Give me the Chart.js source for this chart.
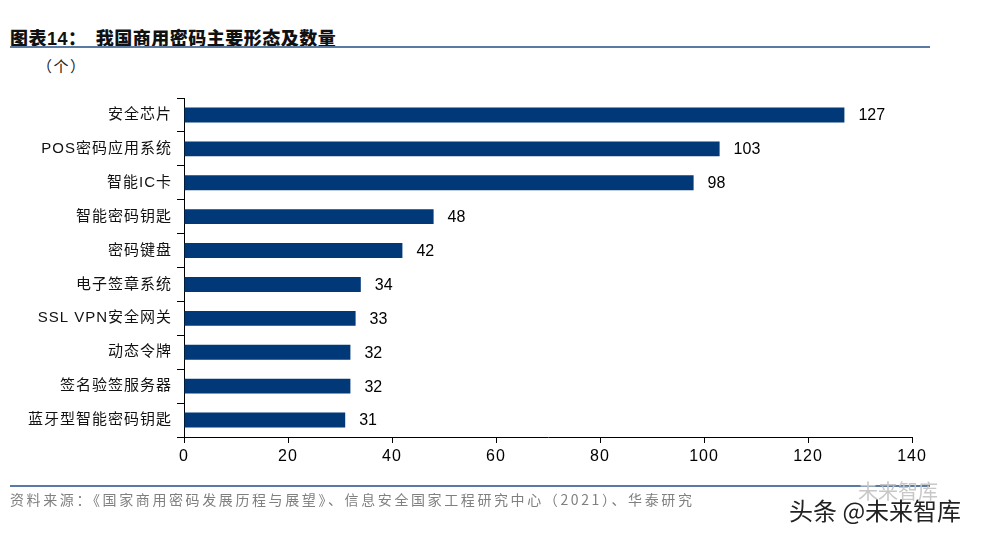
<!DOCTYPE html>
<html>
<head>
<meta charset="utf-8">
<script src="https://cdn.jsdelivr.net/npm/chart.js@4/dist/chart.umd.min.js"></script>
<style>
  body { margin: 0; background: #fff; width: 982px; height: 536px; overflow: hidden; position: relative; }
  #myChart { position: absolute; left: 0; top: 0; }
  .title { position: absolute; left: 10px; top: 25px; font: 900 18px "Noto Sans CJK SC", sans-serif; color: #111; white-space: nowrap; line-height: 24px; letter-spacing: 0.5px; }
  .title .num { font-family: "Liberation Sans", Arial, sans-serif; font-weight: bold; }
  .line { position: absolute; left: 10px; width: 920px; height: 2px; background: #5a7aa3; }
  .unit { position: absolute; left: 37px; top: 55px; font: 15px "Noto Sans CJK SC", sans-serif; color: #222; letter-spacing: 1.5px; }
  .source { position: absolute; left: 10px; top: 489px; font: 14px "Noto Sans CJK SC", sans-serif; color: #808080; letter-spacing: 2.6px; white-space: nowrap; }
  .mark { position: absolute; left: 789px; top: 492px; font: 24px "Noto Sans CJK SC", sans-serif; color: #222; white-space: nowrap; }
  .ghost { position: absolute; left: 858px; top: 476px; font: 20px "Noto Sans CJK SC", sans-serif; color: #c8c8c8; white-space: nowrap; }
</style>
</head>
<body>
<div class="title">图表<span class="num">14</span>：&nbsp;&nbsp;我国商用密码主要形态及数量</div>
<div class="line" style="top:46px"></div>
<div class="unit">（个）</div>
<canvas id="myChart" width="982" height="536"></canvas>
<div class="line" style="top:485px"></div>
<div class="source">资料来源：《国家商用密码发展历程与展望》、信息安全国家工程研究中心（2021）、华泰研究</div>
<div class="ghost">未来智库</div>
<div class="mark">头条 @未来智库</div>
<script>
var categories = ['安全芯片', 'POS密码应用系统', '智能IC卡', '智能密码钥匙', '密码键盘', '电子签章系统', 'SSL VPN安全网关', '动态令牌', '签名验签服务器', '蓝牙型智能密码钥匙'];
var counts = [127, 103, 98, 48, 42, 34, 33, 32, 32, 31];
var xTicks = [0, 20, 40, 60, 80, 100, 120, 140];

// a bit of letter spacing for the axis labels, like the original
var spacing = {
    id: 'spacing',
    beforeDraw: function(chart) { chart.ctx.letterSpacing = '1px'; },
    beforeDatasetsDraw: function(chart) { chart.ctx.letterSpacing = '0px'; }
};

var valueLabels = {
    id: 'valueLabels',
    afterDatasetsDraw: function(chart) {
        var ctx = chart.ctx;
        ctx.save();
        ctx.font = '16px "Liberation Sans", Arial, sans-serif';
        ctx.fillStyle = '#000';
        ctx.textBaseline = 'middle';
        ctx.textAlign = 'left';
        chart.getDatasetMeta(0).data.forEach(function(bar, i) {
            ctx.fillText(counts[i], bar.x + 14, bar.y + 1);
        });
        ctx.restore();
    }
};

var ctx = document.getElementById('myChart');
var myChart = new Chart(ctx, {
    type: 'bar',
    data: {
        labels: categories,
        datasets: [{
            data: counts,
            backgroundColor: '#003878',
            barPercentage: 0.44,
            categoryPercentage: 1
        }]
    },
    options: {
        indexAxis: 'y',
        responsive: false,
        animation: false,
        layout: { padding: { top: 98, right: 70, left: 0, bottom: 0 } },
        plugins: { legend: { display: false }, tooltip: { enabled: false } },
        scales: {
            x: {
                min: 0,
                max: 140,
                afterBuildTicks: function(scale) {
                    scale.ticks = xTicks.map(function(v) { return { value: v }; });
                },
                afterFit: function(scale) { scale.height = 99; },
                grid: { drawOnChartArea: false, color: '#000', tickLength: 6 },
                border: { color: '#000', width: 1 },
                ticks: {
                    color: '#000',
                    padding: 4,
                    maxRotation: 0,
                    font: { family: '"Liberation Sans", Arial, sans-serif', size: 16 }
                }
            },
            y: {
                afterFit: function(scale) { scale.width = 184; },
                grid: { drawOnChartArea: false, color: '#000', tickLength: 7 },
                border: { color: '#000', width: 1 },
                ticks: {
                    color: '#111',
                    padding: 5,
                    font: { family: '"Liberation Sans", "Noto Sans CJK SC", sans-serif', size: 15 }
                }
            }
        }
    },
    plugins: [spacing, valueLabels]
});
</script>
</body>
</html>
